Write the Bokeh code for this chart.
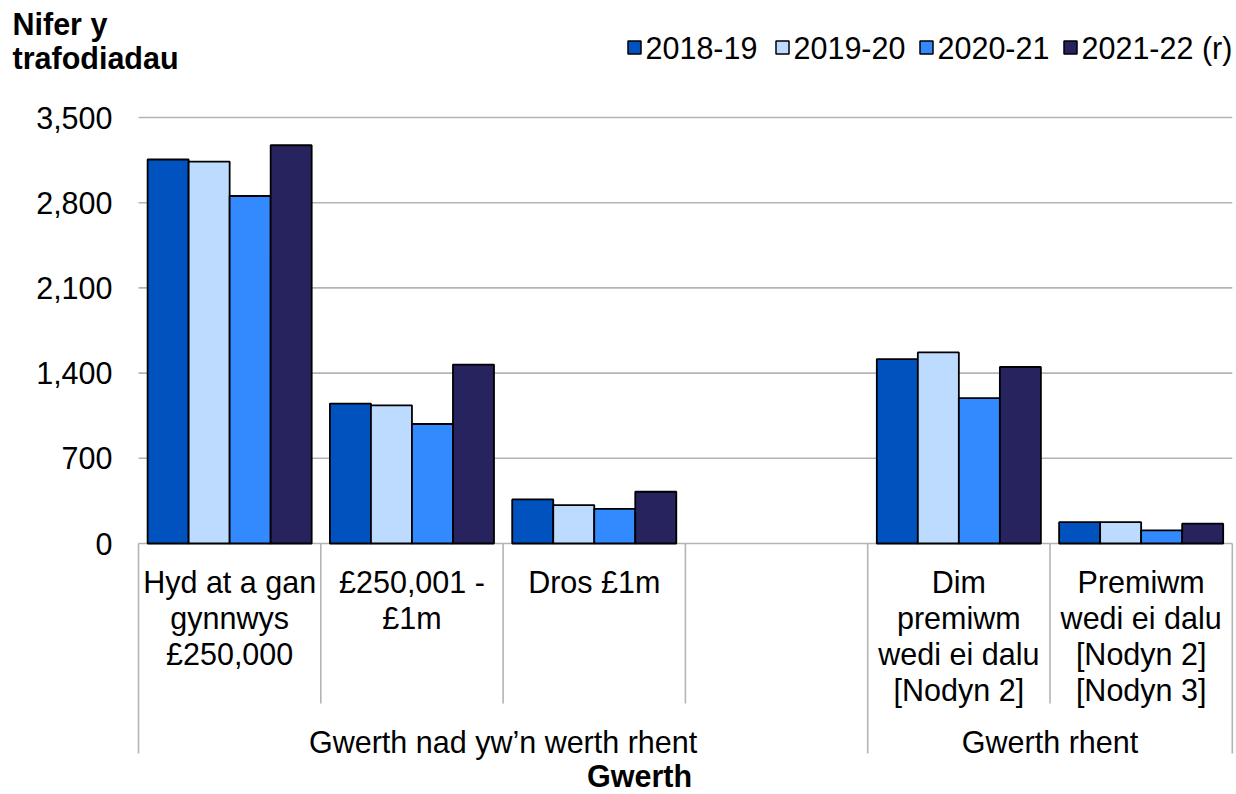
from bokeh.plotting import figure
from bokeh.models import Range1d
from bokeh.core.properties import value
from bokeh.embed import file_html
from bokeh.resources import INLINE

# ---------------- data ----------------
years = ["2018-19", "2019-20", "2020-21", "2021-22 (r)"]
categories = [
    "Hyd at a gan\ngynnwys\n£250,000",
    "£250,001 -\n£1m",
    "Dros £1m",
    "",
    "Dim\npremiwm\nwedi ei dalu\n[Nodyn 2]",
    "Premiwm\nwedi ei dalu\n[Nodyn 2]\n[Nodyn 3]",
]
groups = ["Gwerth nad yw’n werth rhent", "Gwerth rhent"]
group_sizes = [4, 2]
v2018_19 = [3155, 1150, 362, None, 1515, 175]
v2019_20 = [3138, 1135, 316, None, 1570, 175]
v2020_21 = [2855, 982, 285, None, 1195, 108]
v2021_22 = [3272, 1470, 425, None, 1450, 163]
series = [v2018_19, v2019_20, v2020_21, v2021_22]
y_ticks = [0, 700, 1400, 2100, 2800, 3500]
y_title = ["Nifer y", "trafodiadau"]
x_title = "Gwerth"

# ---------------- style / layout ----------------
colors = ["#0052BF", "#BDDAFF", "#338AFF", "#27235F"]
FONT = "Liberation Sans"
FS = "30.5px"
GRID = "#B4B4B4"
W, H = 1236, 794          # figure size
OFF = 0                   # figure offset on the page
X0_PAGE = 138             # page x of category axis start
SLOT = 182.3              # px per category slot
Y0_PAGE = 543             # page y of value 0
YTOP_PAGE = 117           # page y of value 3500
YMAX = y_ticks[-1]
UPP = YMAX / (Y0_PAGE - YTOP_PAGE)   # data units per px


def fx(page_x):
    return (page_x - X0_PAGE) / SLOT


def fy(page_y):
    return (Y0_PAGE - page_y) * UPP


TXT = dict(text_font=value(FONT), text_font_size=value(FS), text_color="black",
           text_baseline="middle")

p = figure(
    width=W, height=H,
    x_range=Range1d(fx(OFF), fx(OFF + W)),
    y_range=Range1d(fy(OFF + H), fy(OFF)),
    output_backend="svg", toolbar_location=None,
    x_axis_location=None, y_axis_location=None,
    min_border=0, outline_line_color=None,
)
p.grid.visible = False
p.background_fill_color = "white"
p.border_fill_color = "white"

n_slots = len(categories)

# gridlines (incl. zero line)
p.segment(x0=[0] * len(y_ticks), y0=y_ticks, x1=[n_slots] * len(y_ticks), y1=y_ticks,
          line_color=GRID, line_width=1.6)

# y tick labels
p.text(x=[fx(112)] * len(y_ticks), y=y_ticks,
       text=[f"{t:,}" for t in y_ticks], text_align="right", **TXT)

# bars
n_ser = len(series)
group_w = 0.9
bw = group_w / n_ser
for j, (vals, col, lab) in enumerate(zip(series, colors, years)):
    xs = [i + 0.5 + (j - (n_ser - 1) / 2) * bw for i, v in enumerate(vals) if v is not None]
    tops = [v for v in vals if v is not None]
    p.vbar(x=xs, top=tops, bottom=0, width=bw, fill_color=col,
           line_color="black", line_width=1.8)

# category dividers
long_div = [0]
short_div = []
pos = 0
for size in group_sizes:
    for k in range(1, size):
        short_div.append(pos + k)
    pos += size
    long_div.append(pos)
p.segment(x0=short_div, y0=[0] * len(short_div), x1=short_div, y1=[fy(703)] * len(short_div),
          line_color=GRID, line_width=1.6)
p.segment(x0=long_div, y0=[0] * len(long_div), x1=long_div, y1=[fy(753)] * len(long_div),
          line_color=GRID, line_width=1.6)

# category labels
cx, cy, ct = [], [], []
for i, lab in enumerate(categories):
    for k, line in enumerate(lab.split("\n")):
        if line:
            cx.append(i + 0.5)
            cy.append(fy(581 + 36.3 * k))
            ct.append(line)
p.text(x=cx, y=cy, text=ct, text_align="center", **TXT)

# group labels
gx = [(long_div[g] + long_div[g + 1]) / 2 for g in range(len(groups))]
p.text(x=gx, y=[fy(741)] * len(groups), text=groups, text_align="center", **TXT)

# axis titles
p.text(x=[fx(639)], y=[fy(775)], text=[x_title], text_align="center",
       text_font_style="bold", **TXT)
p.text(x=[fx(12)] * len(y_title), y=[fy(23), fy(57)], text=y_title, text_align="left",
       text_font_style="bold", **TXT)

# legend (manual, horizontal, top right)
leg_left = [627, 775, 919, 1063]
p.rect(x=[fx(l + 7) for l in leg_left], y=[fy(47)] * len(leg_left), width=13, height=13,
       width_units="screen", height_units="screen", fill_color=colors,
       line_color="black", line_width=1.5)
p.text(x=[fx(l + 18) for l in leg_left], y=[fy(47)] * len(leg_left), text=years,
       text_align="left", **TXT)

open("out.html", "w").write(file_html(p, INLINE))
